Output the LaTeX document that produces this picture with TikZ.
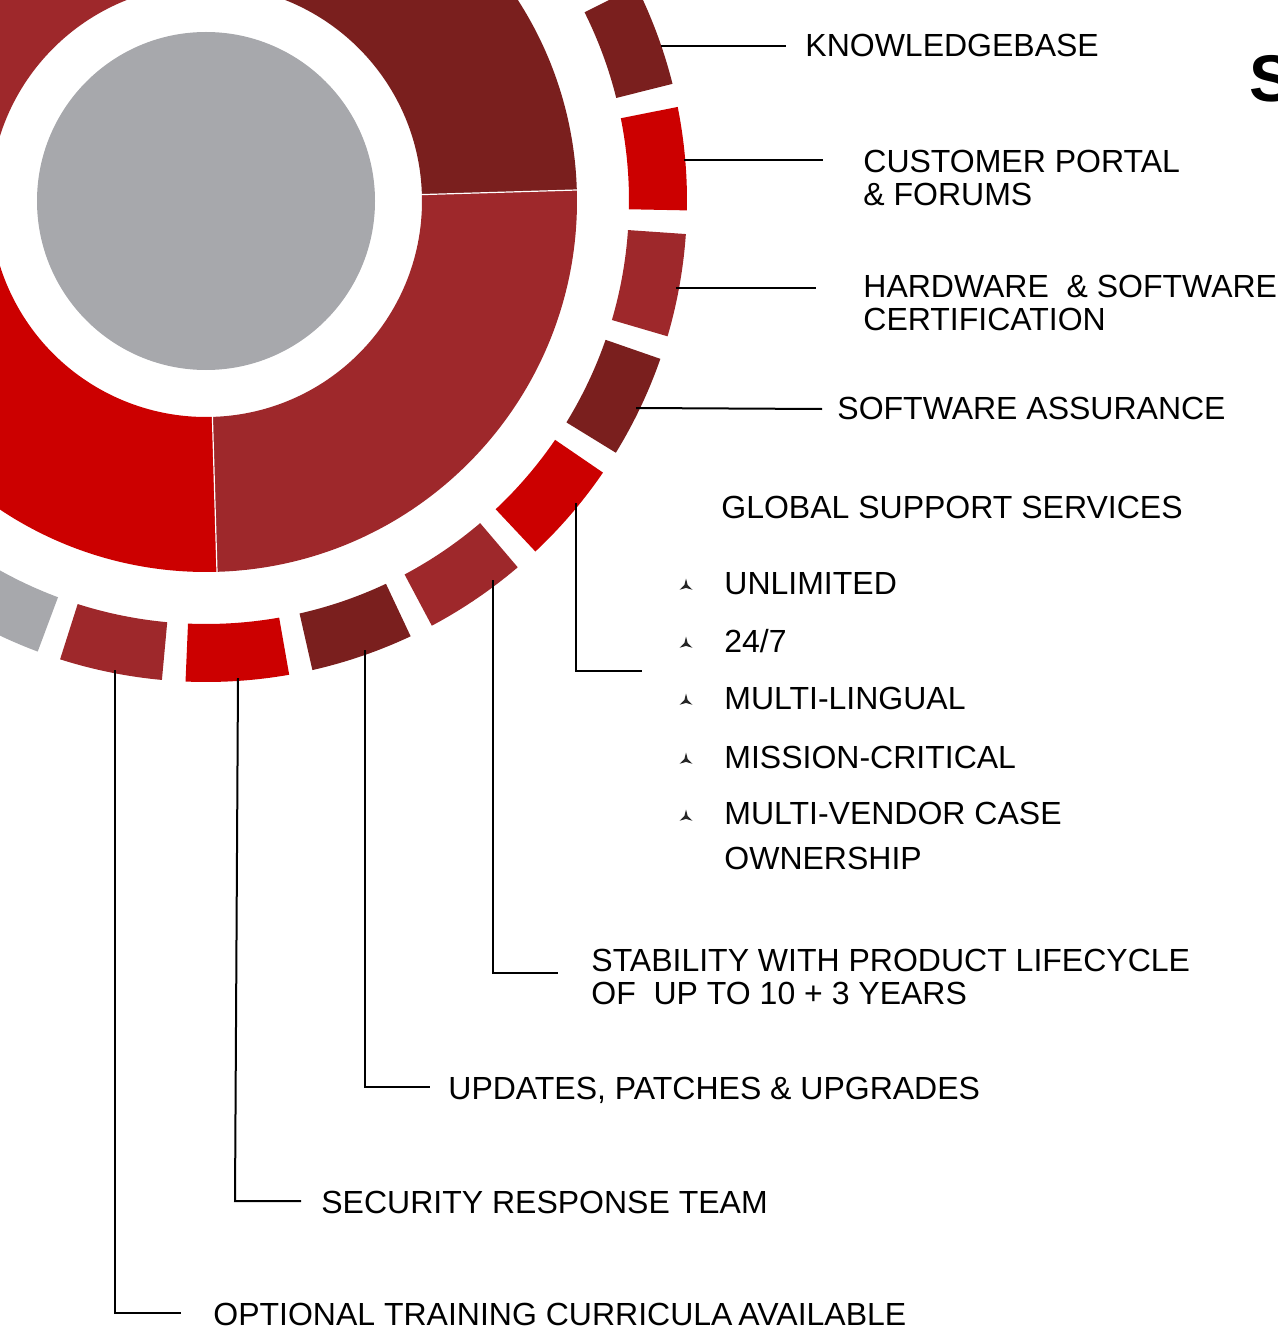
\documentclass[tikz,border=0pt]{standalone}
\usepackage{fontspec}
\setmainfont{Liberation Sans}
\usetikzlibrary{positioning}

\definecolor{wineRed}{RGB}{122,31,30}
\definecolor{brightRed}{RGB}{204,0,0}
\definecolor{midRed}{RGB}{158,40,43}
\definecolor{ringGray}{RGB}{167,168,172}

\tikzset{
  lbl/.style={anchor=base west, inner sep=0pt, font=\fontsize{16}{16.5}\selectfont},
  lbltwo/.style={anchor=west, inner sep=0pt, align=left, font=\fontsize{16}{16.5}\selectfont},
  conn/.style={line width=1pt, black},
}

\begin{document}
\begin{tikzpicture}[x=0.5pt, y=0.5pt]
  \useasboundingbox (0,0) rectangle (1278,-1332);
  \begin{scope}
    \clip (0,0) rectangle (1278,-1332);

    %middle ring, four sectors
    \foreach \a/\b/\c in {180/271.7/brightRed, 271.7/361.7/midRed, 1.7/90/wineRed, 90/180/midRed}
      \fill[\c, shift={(206,-201)}] (\a:216) -- (\a:371) arc[start angle=\a, end angle=\b, radius=371]
        -- (\b:216) arc[start angle=\b, end angle=\a, radius=216] -- cycle;

    %thin white cuts between sectors
    \foreach \a in {1.7,-88.3}
      \draw[white, line width=0.6pt, shift={(206,-201)}] (\a:214) -- (\a:373);

    %inner grey disc
    \fill[ringGray] (206,-201) circle[radius=169];

    %outer ring of small blocks
    \foreach \a/\c in {26.5/wineRed, 11.28/brightRed, -3.94/midRed, -19.16/wineRed,
                       -34.38/brightRed, -49.6/midRed, -64.82/wineRed, -80.04/brightRed,
                       -95.26/midRed, -110.48/ringGray}
      \fill[\c, shift={(206,-201)}] (\a:423) -- (\a:481) arc[start angle=\a, end angle=\a-12.4, radius=481]
        -- (\a-12.4:423) arc[start angle=\a-12.4, end angle=\a, radius=423] -- cycle;

    %title letter cut by the edge
    \node[anchor=west, inner sep=0pt, font=\fontsize{33}{33}\selectfont\bfseries] (titleS) at (1249,-79) {S};
  \end{scope}

  %labels on the right
  \node[lbl] (kbtxt) at (805,-56.5) {KNOWLEDGEBASE};
  \node[lbltwo] (portaltxt) at (863,-178) {CUSTOMER PORTAL\\\& FORUMS};
  \node[lbltwo] (certtxt) at (863,-303) {HARDWARE \ \& SOFTWARE\\CERTIFICATION};
  \node[lbl] (assurtxt) at (837,-419.5) {SOFTWARE ASSURANCE};
  \node[lbl] (globaltxt) at (721,-518.5) {GLOBAL SUPPORT SERVICES};

  %bullet list
  \node[lbl] (b1) at (724,-594.5) {UNLIMITED};
  \node[lbl] (b2) at (724,-652) {24/7};
  \node[lbl] (b3) at (724,-709.5) {MULTI-LINGUAL};
  \node[lbl] (b4) at (724,-768) {MISSION-CRITICAL};
  \node[lbltwo] (b5) at (724,-835.5) {MULTI-VENDOR CASE\\[6pt]OWNERSHIP};
  \foreach \y in {586,644,701,760,817}
    \fill[black!85, shift={(686,-\y)}] (90:7.5) -- (150:1.9) -- (210:7.5) -- (270:1.9) -- (330:7.5) -- (30:1.9) -- cycle;

  %labels below
  \node[lbltwo] (stabtxt) at (591,-977) {STABILITY WITH PRODUCT LIFECYCLE\\OF \ UP TO 10 + 3 YEARS};
  \node[lbl] (updtxt) at (448,-1099.5) {UPDATES, PATCHES \& UPGRADES};
  \node[lbl] (sectxt) at (321,-1213.5) {SECURITY RESPONSE TEAM};
  \node[lbl] (traintxt) at (213,-1325.5) {OPTIONAL TRAINING CURRICULA\hspace{-1.5pt} AVAILABLE};

  %connector end points
  \coordinate (kbA) at (661,-46);    \coordinate (kbB) at (786,-46);
  \coordinate (portA) at (684,-160); \coordinate (portB) at (823,-160);
  \coordinate (certA) at (676,-288); \coordinate (certB) at (816,-288);
  \coordinate (assA) at (636,-408);  \coordinate (assB) at (822,-409);
  \coordinate (globA) at (576,-503); \coordinate (globB) at (642,-671);
  \coordinate (stabA) at (493,-580); \coordinate (stabB) at (558,-973);
  \coordinate (updA) at (365,-650);  \coordinate (updB) at (430,-1087);
  \coordinate (secA) at (238,-678);  \coordinate (secK) at (235,-1201); \coordinate (secB) at (301,-1201);
  \coordinate (trA) at (115,-670);   \coordinate (trB) at (181,-1313);

  %connectors
  \draw[conn] (kbA) -- (kbB);
  \draw[conn] (portA) -- (portB);
  \draw[conn] (certA) -- (certB);
  \draw[conn] (assA) -- (assB);
  \draw[conn] (globA) |- (globB);
  \draw[conn] (stabA) |- (stabB);
  \draw[conn] (updA) |- (updB);
  \draw[conn] (secA) -- (secK) -- (secB);
  \draw[conn] (trA) |- (trB);
\end{tikzpicture}
\end{document}
